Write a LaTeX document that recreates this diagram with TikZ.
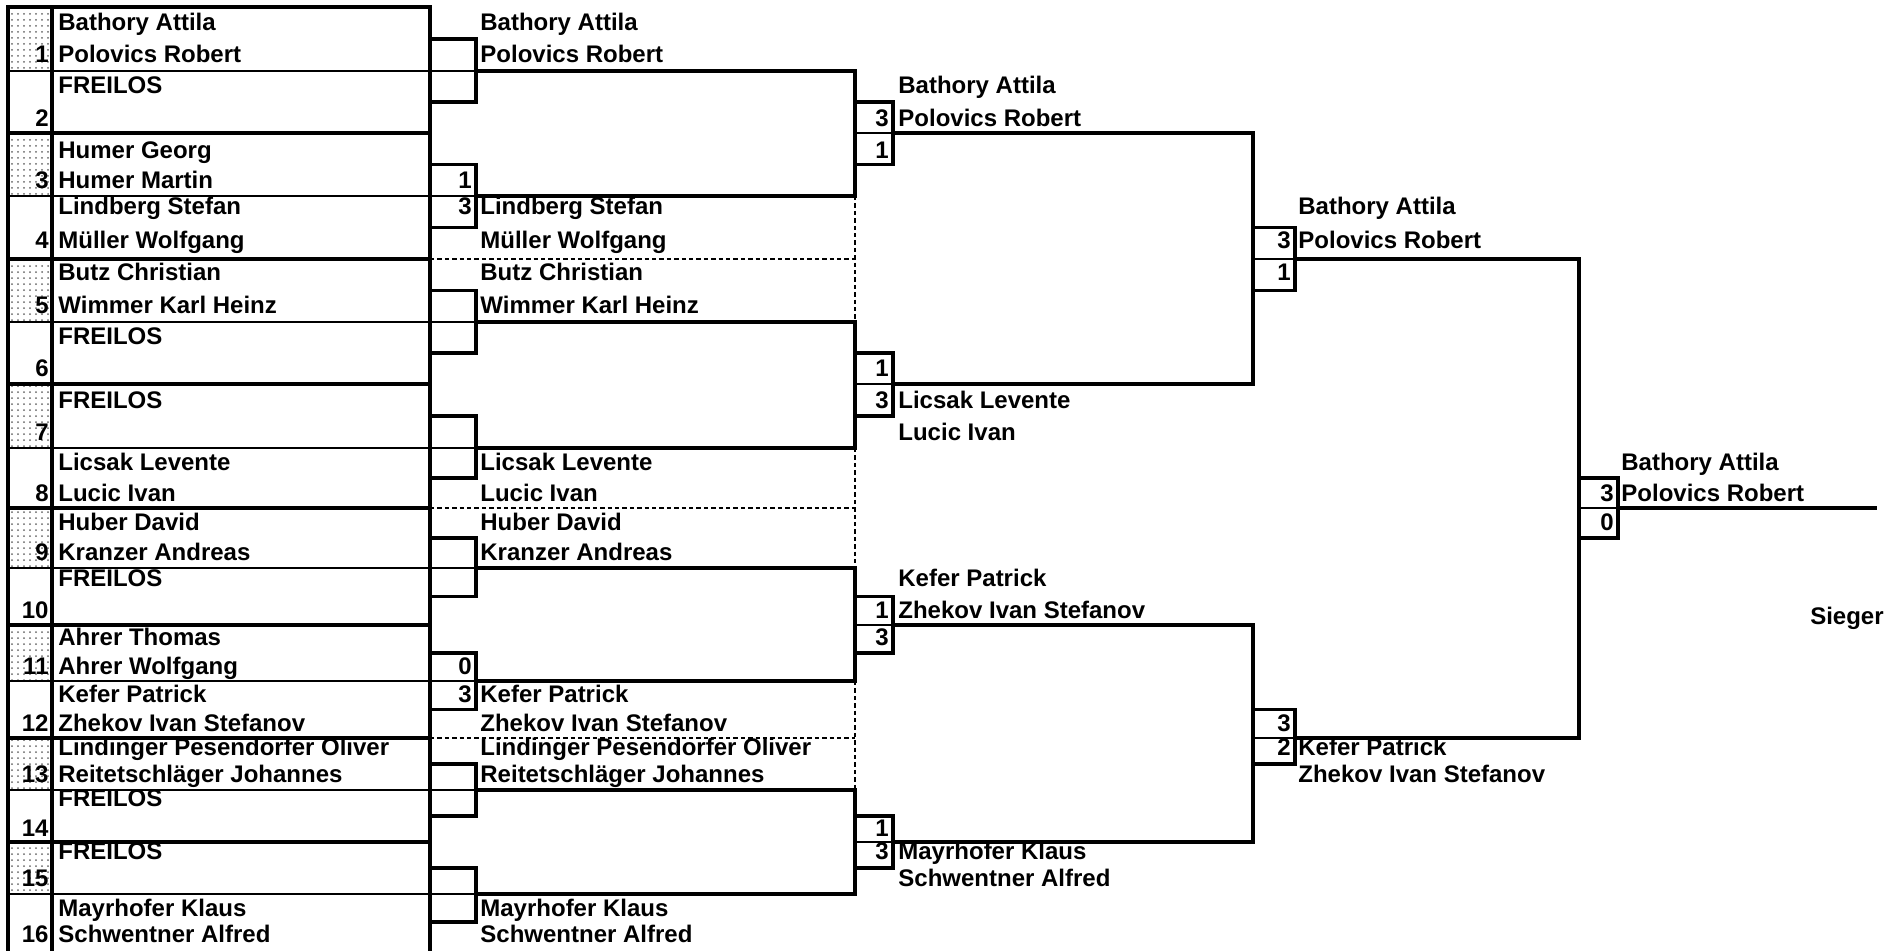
\documentclass[tikz,border=0pt]{standalone}
\usepackage{fontspec}
\setmainfont{Liberation Sans}
\usetikzlibrary{patterns}

\begin{document}
\begin{tikzpicture}[line cap=rect, line join=miter, x=0.5pt, y=-0.5pt,
    frame/.style={line width=1.8pt},
    rule/.style={line width=0.8pt},
    border/.style={line width=1.4pt, line cap=butt, dash pattern=on 2.2pt off 1.5pt},
    player/.style={anchor=base west, inner sep=0pt, font=\fontsize{12}{14}\selectfont\bfseries},
    score/.style={anchor=base east, inner sep=0pt, font=\fontsize{12}{14}\selectfont\bfseries}]

\useasboundingbox (0,0) rectangle (1890,950);

% seed cells
\foreach \t/\b in {7/71,133/196,259/322,384/448,508/568,625/681,738/790,842/894}
  \fill[pattern=dots, pattern color=black!60] (8,\t) rectangle (52,\b);

% draw sheet
\foreach \y in {7,133,259,384,508,625,738,842}
  \draw[frame] (8,\y) -- (430,\y);
\foreach \y in {71,196,322,448,568,681,790,894}
  \draw[rule] (8,\y) -- (476,\y);
\draw[frame] (8,7) -- (8,950) (52,7) -- (52,950) (430,7) -- (430,950);

\foreach \s/\ya/\yb/\na/\nb in {1/22/54/Bathory Attila/Polovics Robert,
    2/85/118/FREILOS/, 3/150/180/Humer Georg/Humer Martin,
    4/206/240/Lindberg Stefan/Müller Wolfgang,
    5/272/305/Butz Christian/Wimmer Karl Heinz, 6/336/368/FREILOS/,
    7/400/432/FREILOS/, 8/462/493/Licsak Levente/Lucic Ivan,
    9/522/552/Huber David/Kranzer Andreas, 10/578/610/FREILOS/,
    11/637/666/Ahrer Thomas/Ahrer Wolfgang,
    12/694/723/Kefer Patrick/Zhekov Ivan Stefanov,
    13/747/774/Lindinger Pesendorfer Oliver/Reitetschläger Johannes,
    14/798/828/FREILOS/, 15/851/878/FREILOS/,
    16/908/934/Mayrhofer Klaus/Schwentner Alfred}
{
  \node[score] (seed\s) at (49,\yb+8) {\s};
  \node[player] (top\s) at (58,\ya+8) {\na};
  \node[player] (bot\s) at (58,\yb+8) {\nb};
}

% Round 1
\foreach \t/\m/\b in {39/71/102, 164.5/196/227.5, 290.5/322/353, 416/448/478,
    538/568/596.5, 653/681/709.5, 764/790/816, 868/894/922}
{
  \draw[frame] (430,\t) -- (476,\t) -- (476,\b) -- (430,\b);
  \draw[frame] (476,\m) -- (855,\m);
}
\draw[border] (430,259) -- (855,259) (855,196) -- (855,322);
\draw[border] (430,508) -- (855,508) (855,448) -- (855,568);
\draw[border] (430,738) -- (855,738) (855,681) -- (855,790);

\node[score] (sa) at (472,188) {1};
\node[score] (sb) at (472,214) {3};
\node[score] (sc) at (472,674) {0};
\node[score] (sd) at (472,702) {3};

\node[player] (wa1) at (480,30) {Bathory Attila};
\node[player] (wa2) at (480,62) {Polovics Robert};
\node[player] (wb1) at (480,214) {Lindberg Stefan};
\node[player] (wb2) at (480,248) {Müller Wolfgang};
\node[player] (wc1) at (480,280) {Butz Christian};
\node[player] (wc2) at (480,313) {Wimmer Karl Heinz};
\node[player] (wd1) at (480,470) {Licsak Levente};
\node[player] (wd2) at (480,501) {Lucic Ivan};
\node[player] (we1) at (480,530) {Huber David};
\node[player] (we2) at (480,560) {Kranzer Andreas};
\node[player] (wf1) at (480,702) {Kefer Patrick};
\node[player] (wf2) at (480,731) {Zhekov Ivan Stefanov};
\node[player] (wg1) at (480,755) {Lindinger Pesendorfer Oliver};
\node[player] (wg2) at (480,782) {Reitetschläger Johannes};
\node[player] (wh1) at (480,916) {Mayrhofer Klaus};
\node[player] (wh2) at (480,942) {Schwentner Alfred};

% Round 2
\foreach \u/\t/\m/\b/\l in {71/102/133/164.5/196, 322/353/384/416/448,
    568/596.5/625/653/681, 790/816/842/868/894}
{
  \draw[frame] (855,\u) -- (855,\l);
  \draw[frame] (855,\t) -- (893,\t) -- (893,\b) -- (855,\b);
  \draw[rule] (855,\m) -- (893,\m);
  \draw[frame] (893,\m) -- (1253,\m);
}

\node[score] (ta) at (889,126) {3};
\node[score] (tb) at (889,158) {1};
\node[score] (tc) at (889,376) {1};
\node[score] (td) at (889,408) {3};
\node[score] (te) at (889,618) {1};
\node[score] (tf) at (889,645) {3};
\node[score] (tg) at (889,836) {1};
\node[score] (th) at (889,859) {3};

\node[player] (va1) at (898,93) {Bathory Attila};
\node[player] (va2) at (898,126) {Polovics Robert};
\node[player] (vb1) at (898,408) {Licsak Levente};
\node[player] (vb2) at (898,440) {Lucic Ivan};
\node[player] (vc1) at (898,586) {Kefer Patrick};
\node[player] (vc2) at (898,618) {Zhekov Ivan Stefanov};
\node[player] (vd1) at (898,859) {Mayrhofer Klaus};
\node[player] (vd2) at (898,886) {Schwentner Alfred};

% Round 3
\draw[frame] (1253,133) -- (1253,384);
\draw[frame] (1253,227.5) -- (1295,227.5) -- (1295,290.5) -- (1253,290.5);
\draw[rule] (1253,259) -- (1295,259);
\draw[frame] (1295,259) -- (1579,259);
\draw[frame] (1253,625) -- (1253,842);
\draw[frame] (1253,709.5) -- (1295,709.5) -- (1295,764) -- (1253,764);
\draw[rule] (1253,738) -- (1295,738);
\draw[frame] (1295,738) -- (1579,738);

\node[score] (ua) at (1291,248) {3};
\node[score] (ub) at (1291,280) {1};
\node[score] (uc) at (1291,731) {3};
\node[score] (ud) at (1291,755) {2};

\node[player] (xa1) at (1298,214) {Bathory Attila};
\node[player] (xa2) at (1298,248) {Polovics Robert};
\node[player] (xb1) at (1298,755) {Kefer Patrick};
\node[player] (xb2) at (1298,782) {Zhekov Ivan Stefanov};

% Final
\draw[frame] (1579,259) -- (1579,738);
\draw[frame] (1579,478) -- (1618,478) -- (1618,538) -- (1579,538);
\draw[rule] (1579,508) -- (1618,508);
\draw[frame] (1618,508) -- (1875,508);

\node[score] (fa) at (1614,501) {3};
\node[score] (fb) at (1614,530) {0};

\node[player] (ya1) at (1621,470) {Bathory Attila};
\node[player] (ya2) at (1621,501) {Polovics Robert};

\node[score] (sieger) at (1884,624) {Sieger};
\end{tikzpicture}
\end{document}
